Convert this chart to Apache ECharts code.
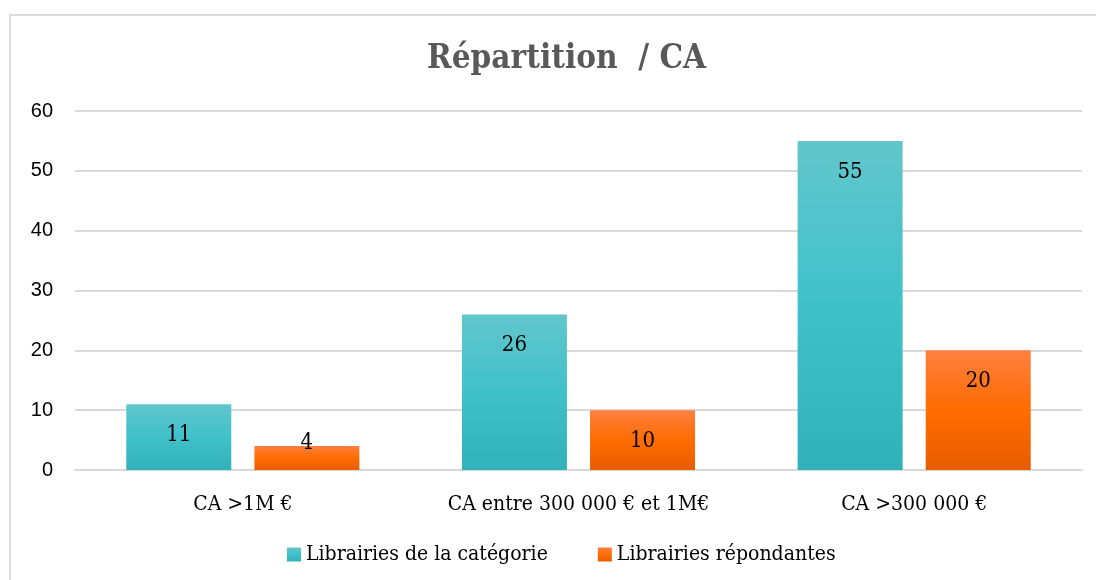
<!DOCTYPE html>
<html>
  <head>
    <meta charset="utf-8" />
    <title>Répartition / CA</title>
    <script src="https://cdn.jsdelivr.net/npm/echarts@6/dist/echarts.min.js"></script>
  </head>
  <body style="margin:0;background:#fff">
    <style>
      #main { width: 1096px; height: 580px; }
    </style>
    <div id="main"></div>
    <script type="text/javascript">
      // data
      var categories = ['CA >1M €', 'CA entre 300 000 € et 1M€', 'CA >300 000 €'];
      var seriesNames = ['Librairies de la catégorie', 'Librairies répondantes'];
      var categorie = [11, 26, 55];
      var repondantes = [4, 10, 20];
      var yTicks = [0, 10, 20, 30, 40, 50, 60];

      var serif = 'DejaVu Serif Condensed';
      var myChart = echarts.init(document.getElementById('main'));

      function grad(top, mid, bottom) {
        return new echarts.graphic.LinearGradient(0, 0, 0, 1, [
          { offset: 0, color: top },
          { offset: 0.5, color: mid },
          { offset: 1, color: bottom }
        ]);
      }

      // small bars: Excel pushes the label up over the bar top
      function withLabels(values) {
        return values.map(v => {
          if (v < 5) {
            return { value: v, label: { distance: -14 } };
          }
          return v;
        });
      }

      var option = {
        animation: false,
        title: {
          text: 'Répartition  / CA',
          left: 422,
          top: 38,
          textStyle: {
            fontFamily: serif,
            fontWeight: 'bold',
            fontSize: 33,
            color: '#595959'
          }
        },
        legend: {
          bottom: 10,
          left: 282,
          itemWidth: 14,
          itemHeight: 14,
          itemGap: 50,
          icon: 'rect',
          textStyle: {
            fontFamily: serif,
            fontSize: 21,
            color: '#000'
          },
          data: seriesNames
        },
        grid: {
          left: 75,
          right: 14,
          top: 111,
          bottom: 110
        },
        graphic: [{
          type: 'polyline',
          shape: { points: [[10, 600], [10, 15], [1110, 15]] },
          style: { stroke: '#d9d9d9', lineWidth: 2, fill: null },
          silent: true
        }],
        xAxis: {
          type: 'category',
          data: categories,
          axisLine: { show: true, lineStyle: { color: '#d9d9d9', width: 2 } },
          axisTick: { show: false },
          axisLabel: {
            interval: 0,
            hideOverlap: false,
            margin: 24,
            fontFamily: serif,
            fontSize: 21,
            color: '#000'
          }
        },
        yAxis: {
          type: 'value',
          min: yTicks[0],
          max: yTicks[yTicks.length - 1],
          interval: 10,
          axisLine: { show: false },
          axisTick: { show: false },
          axisLabel: {
            margin: 22,
            fontFamily: 'Liberation Sans',
            fontSize: 20,
            color: '#000'
          },
          splitLine: { lineStyle: { color: '#d9d9d9', width: 2 } }
        },
        series: [
          {
            name: seriesNames[0],
            type: 'bar',
            data: withLabels(categorie),
            barWidth: 105,
            barGap: '22%',
            itemStyle: { color: grad('#62c6cc', '#40c1ca', '#31b1ba') },
            label: {
              show: true,
              position: 'insideTop',
              distance: 20,
              fontFamily: serif,
              fontSize: 22,
              color: '#000'
            }
          },
          {
            name: seriesNames[1],
            type: 'bar',
            data: withLabels(repondantes),
            barWidth: 105,
            barGap: '22%',
            itemStyle: { color: grad('#ff8040', '#ff6c00', '#e85c00') },
            label: {
              show: true,
              position: 'insideTop',
              distance: 20,
              fontFamily: serif,
              fontSize: 22,
              color: '#000'
            }
          }
        ]
      };

      myChart.setOption(option);
    </script>
  </body>
</html>
